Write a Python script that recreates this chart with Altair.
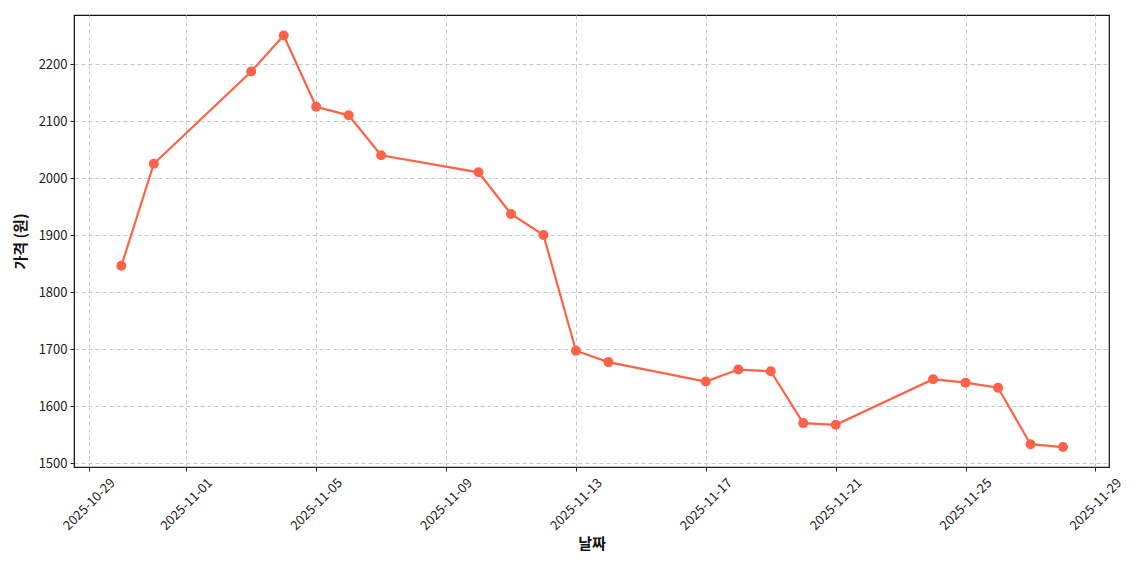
import altair as alt
import pandas as pd

dates = ["2025-10-30", "2025-10-31", "2025-11-03", "2025-11-04", "2025-11-05", "2025-11-06",
         "2025-11-07", "2025-11-10", "2025-11-11", "2025-11-12", "2025-11-13", "2025-11-14",
         "2025-11-17", "2025-11-18", "2025-11-19", "2025-11-20", "2025-11-21", "2025-11-24",
         "2025-11-25", "2025-11-26", "2025-11-27", "2025-11-28"]
prices = [1846, 2025, 2187, 2250, 2125, 2110, 2040, 2010, 1937, 1900, 1697, 1677,
          1643, 1664, 1661, 1570, 1567, 1647, 1641, 1632, 1533, 1528]
tick_dates = [(2025, 10, 29), (2025, 11, 1), (2025, 11, 5), (2025, 11, 9), (2025, 11, 13),
              (2025, 11, 17), (2025, 11, 21), (2025, 11, 25), (2025, 11, 29)]
y_ticks = [1500, 1600, 1700, 1800, 1900, 2000, 2100, 2200]

df = pd.DataFrame({"date": dates, "price": prices})

FONT = "Noto Sans CJK KR"
COLOR = "#FF6347"

x_enc = alt.X(
    "date:T",
    scale=alt.Scale(type="utc",
                    domain=[alt.DateTime(year=2025, month=10, date=28, hours=13, utc=True),
                            alt.DateTime(year=2025, month=11, date=29, hours=10, utc=True)]),
    axis=alt.Axis(
        values=[alt.DateTime(year=y, month=m, date=d, utc=True) for (y, m, d) in tick_dates],
        labelExpr="utcFormat(datum.value, '%Y-%m-%d')",
        labelAngle=-45, labelAlign="center", labelBaseline="middle",
        labelFontSize=13, labelColor="#222", labelPadding=33,
        title="날짜", titleFontSize=15, titleFontWeight="bold", titleColor="#111",
        titlePadding=4,
        grid=True, gridDash=[4, 3], gridColor="#c8c8c8", gridWidth=1,
        domainColor="#222", tickColor="#222", tickSize=4,
    ),
)
y_enc = alt.Y(
    "price:Q",
    scale=alt.Scale(domain=[1493, 2286], nice=False, zero=False),
    axis=alt.Axis(
        values=y_ticks, format="d", labelFontSize=13, labelColor="#222",
        title="가격 (원)", titleFontSize=15, titleFontWeight="bold", titleColor="#111",
        titlePadding=10,
        grid=True, gridDash=[4, 3], gridColor="#c8c8c8", gridWidth=1,
        domainColor="#222", tickColor="#222", tickSize=4, labelPadding=3,
    ),
)

line = alt.Chart(df).mark_line(color=COLOR, strokeWidth=2.2).encode(x=x_enc, y=y_enc)
pts = alt.Chart(df).mark_point(filled=True, color=COLOR, size=100, opacity=1).encode(x=x_enc, y=y_enc)

chart = (line + pts).properties(
    width=1035, height=452,
    autosize=alt.AutoSizeParams(type="none"),
    padding={"left": 66, "top": 7, "right": 20, "bottom": 100},
).configure(font=FONT).configure_view(stroke="#111", strokeWidth=1.2)

chart.save("out.html", embed_options={"renderer": "svg", "actions": False})
